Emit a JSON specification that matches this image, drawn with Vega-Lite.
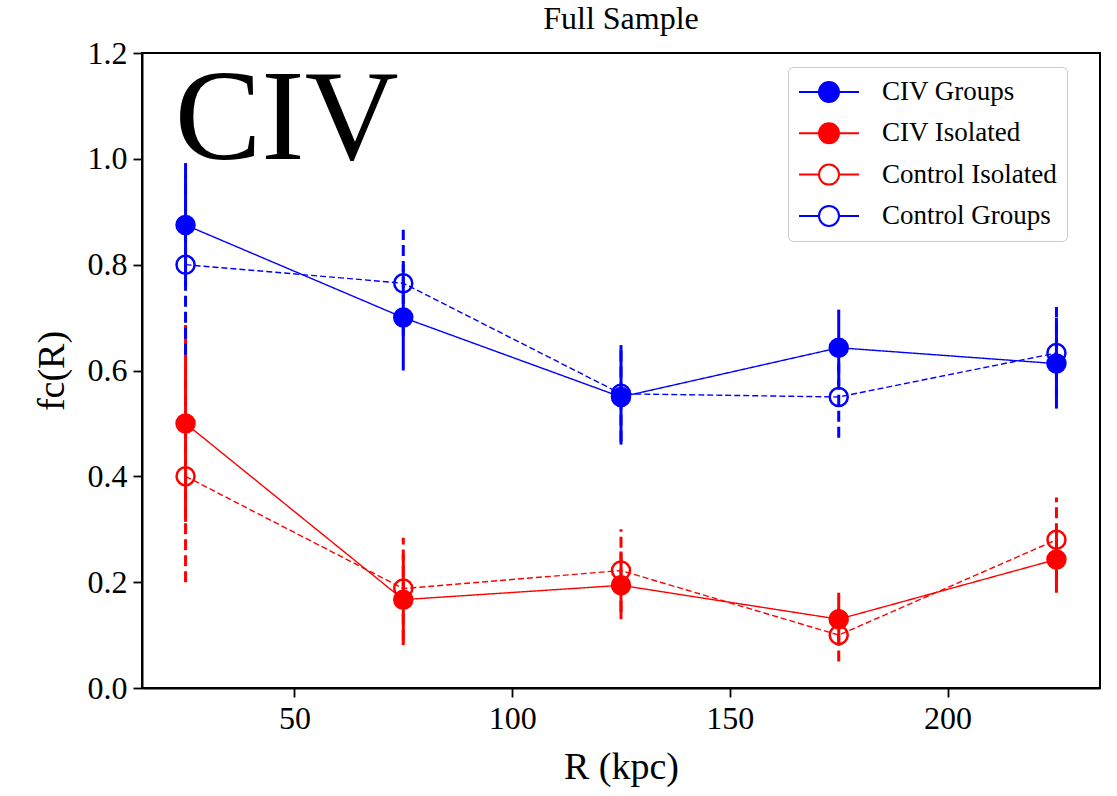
{
  "$schema": "https://vega.github.io/schema/vega-lite/v6.json",
  "width": 958,
  "height": 635,
  "autosize": "none",
  "padding": {"left": 142, "top": 53, "right": 17, "bottom": 108},
  "background": "white",
  "title": {"text": "Full Sample", "font": "Liberation Serif", "fontSize": 32, "fontWeight": "normal", "color": "black", "frame": "group", "baseline": "alphabetic", "offset": -24},
  "data": {"values": [
    {"series": "CIV Groups", "R": 25, "f": 0.875, "lo": 0.758, "hi": 0.992},
    {"series": "CIV Groups", "R": 75, "f": 0.70, "lo": 0.60, "hi": 0.80},
    {"series": "CIV Groups", "R": 125, "f": 0.55, "lo": 0.46, "hi": 0.648},
    {"series": "CIV Groups", "R": 175, "f": 0.643, "lo": 0.571, "hi": 0.715},
    {"series": "CIV Groups", "R": 225, "f": 0.613, "lo": 0.528, "hi": 0.70},
    {"series": "CIV Isolated", "R": 25, "f": 0.50, "lo": 0.314, "hi": 0.686},
    {"series": "CIV Isolated", "R": 75, "f": 0.167, "lo": 0.081, "hi": 0.253},
    {"series": "CIV Isolated", "R": 125, "f": 0.194, "lo": 0.13, "hi": 0.258},
    {"series": "CIV Isolated", "R": 175, "f": 0.13, "lo": 0.08, "hi": 0.18},
    {"series": "CIV Isolated", "R": 225, "f": 0.243, "lo": 0.18, "hi": 0.306},
    {"series": "Control Isolated", "R": 25, "f": 0.40, "lo": 0.20, "hi": 0.60},
    {"series": "Control Isolated", "R": 75, "f": 0.188, "lo": 0.09, "hi": 0.284},
    {"series": "Control Isolated", "R": 125, "f": 0.222, "lo": 0.144, "hi": 0.30},
    {"series": "Control Isolated", "R": 175, "f": 0.10, "lo": 0.05, "hi": 0.15},
    {"series": "Control Isolated", "R": 225, "f": 0.28, "lo": 0.20, "hi": 0.36},
    {"series": "Control Groups", "R": 25, "f": 0.80, "lo": 0.63, "hi": 0.97},
    {"series": "Control Groups", "R": 75, "f": 0.765, "lo": 0.665, "hi": 0.866},
    {"series": "Control Groups", "R": 125, "f": 0.556, "lo": 0.466, "hi": 0.646},
    {"series": "Control Groups", "R": 175, "f": 0.55, "lo": 0.473, "hi": 0.627},
    {"series": "Control Groups", "R": 225, "f": 0.633, "lo": 0.55, "hi": 0.72}
  ]},
  "layer": [
    {
      "mark": {"type": "point", "shape": "circle", "size": 324, "strokeWidth": 2.5, "opacity": 1, "filled": false},
      "encoding": {
        "x": {"field": "R", "type": "quantitative", "scale": {"domain": [15, 235], "nice": false, "zero": false}, "axis": {"values": [50, 100, 150, 200], "title": "R (kpc)", "titlePadding": 14, "labelPadding": 6}},
        "y": {"field": "f", "type": "quantitative", "scale": {"domain": [0, 1.2], "nice": false}, "axis": {"values": [0, 0.2, 0.4, 0.6, 0.8, 1.0, 1.2], "format": ".1f", "title": "fc(R)", "titlePadding": 16, "labelPadding": 6}},
        "color": {"field": "series", "type": "nominal", "scale": {"domain": ["CIV Groups", "CIV Isolated", "Control Isolated", "Control Groups"], "range": ["#0000ff", "#ff0000", "#ff0000", "#0000ff"]},
          "legend": {
            "orient": "none", "legendX": 646, "legendY": 14, "title": null,
            "padding": 10, "fillColor": "white", "strokeColor": "#cccccc", "cornerRadius": 5,
            "symbolType": "M-1,0L-0.3333,0A0.3333,0.3333,0,1,1,0.3333,0A0.3333,0.3333,0,1,1,-0.3333,0M0.3333,0L1,0",
            "symbolSize": 3600, "symbolStrokeWidth": 2, "symbolOffset": 0, "symbolOpacity": 1,
            "labelOffset": 22, "labelFont": "Liberation Serif", "labelFontSize": 27, "labelColor": "black", "labelLimit": 400,
            "clipHeight": 30, "rowPadding": 11.3,
            "encode": {"symbols": {
              "strokeDash": {"value": {"expr": "indexof(datum.value, 'Control') === 0 ? [5,2.5,5,2.5,5,0,64,2.5] : [1,0]"}}
            }}
          }},
        "fill": {"field": "series", "type": "nominal", "scale": {"domain": ["CIV Groups", "CIV Isolated", "Control Isolated", "Control Groups"], "range": ["#0000ff", "#ff0000", "transparent", "transparent"]}}
      }
    },
    {
      "transform": [{"filter": "indexof(datum.series, 'CIV') === 0"}],
      "mark": {"type": "rule", "strokeWidth": 3},
      "encoding": {
        "x": {"field": "R", "type": "quantitative"},
        "y": {"field": "lo", "type": "quantitative"},
        "y2": {"field": "hi"},
        "stroke": {"field": "series", "type": "nominal", "scale": {"domain": ["CIV Groups", "CIV Isolated", "Control Isolated", "Control Groups"], "range": ["#0000ff", "#ff0000", "#ff0000", "#0000ff"]}}
      }
    },
    {
      "transform": [{"filter": "indexof(datum.series, 'Control') === 0"}],
      "mark": {"type": "rule", "strokeWidth": 3, "strokeDash": [11, 5]},
      "encoding": {
        "x": {"field": "R", "type": "quantitative"},
        "y": {"field": "lo", "type": "quantitative"},
        "y2": {"field": "hi"},
        "stroke": {"field": "series", "type": "nominal"}
      }
    },
    {
      "mark": {"type": "line", "strokeWidth": 1.4},
      "encoding": {
        "x": {"field": "R", "type": "quantitative"},
        "y": {"field": "f", "type": "quantitative"},
        "stroke": {"field": "series", "type": "nominal"},
        "strokeDash": {"field": "series", "type": "nominal", "scale": {"domain": ["CIV Groups", "CIV Isolated", "Control Groups", "Control Isolated"], "range": [[1, 0], [1, 0], [6, 3], [6, 3]]}, "legend": null}
      }
    },
    {
      "data": {"values": [{"label": "CIV"}]},
      "mark": {"type": "text", "font": "Liberation Serif", "fontSize": 130, "align": "left", "baseline": "alphabetic", "color": "black"},
      "encoding": {
        "x": {"datum": 22.5},
        "y": {"datum": 1.0},
        "text": {"field": "label"}
      }
    }
  ],
  "config": {
    "view": {"stroke": "black", "strokeWidth": 2},
    "axis": {"domainColor": "black", "domainWidth": 2, "tickColor": "black", "tickWidth": 1.8, "tickSize": 9, "labelFont": "Liberation Serif", "labelFontSize": 32, "labelColor": "black", "titleFont": "Liberation Serif", "titleFontSize": 38, "titleFontWeight": "normal", "titleColor": "black", "grid": false}
  }
}
